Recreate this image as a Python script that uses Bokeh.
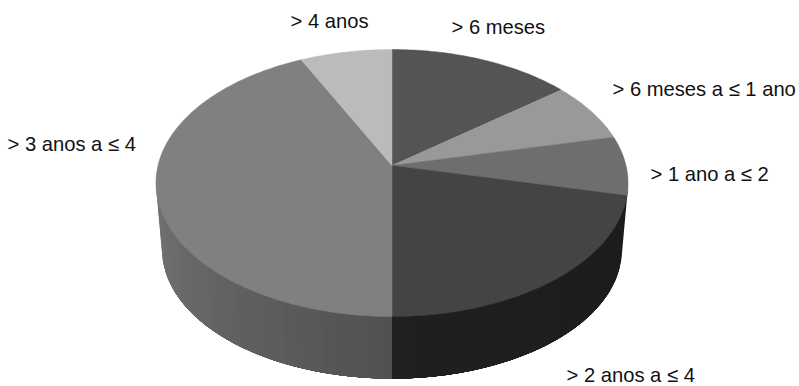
import math
from bokeh.plotting import figure
from bokeh.embed import file_html
from bokeh.resources import INLINE
from bokeh.core.properties import value

# Slices clockwise from twelve o'clock
categories = ["> 6 meses", "> 6 meses a ≤ 1 ano", "> 1 ano a ≤ 2",
              "> 2 anos a ≤ 4", "> 3 anos a ≤ 4", "> 4 anos"]
counts = [2, 1, 1, 3, 6, 1]
top_colors = ["#545454", "#999999", "#6e6e6e", "#444444", "#808080", "#bbbbbb"]
label_x = [451, 612, 650, 566, 7, 290]
label_y = [26, 88, 173, 374, 143, 20]

W, H = 799, 386
CX = 391.5
TILT = 0.1311


def project(deg, a, b, cy):
    """Perspective projection of a point on the rim of the disc."""
    t = math.radians(deg)
    u, v = math.sin(t), -math.cos(t)
    w = 1 - TILT * v
    return CX + a * u / w, cy + b * v / w


def top_rim(deg):
    return project(deg, 234, 131.2, 165)


def base_rim(deg):
    return project(deg, 228, 126.5, 232.5)


def lerp(c0, c1, f):
    return c0 + (c1 - c0) * f


def wall_shade(deg):
    # Dark wall on the right of the front line, lit gradient towards the left
    if deg < 180:
        g = lerp(0x1b, 0x20, (deg - 95) / 85)
    else:
        g = lerp(0x50, 0x74, (deg - 180) / 85)
    g = int(round(g))
    return f"#{g:02x}{g:02x}{g:02x}"


def add_wall(p, d_from, d_to, step):
    # Strips run from the silhouette towards the front line; each overlaps
    # the previous one, which closes the hairline gaps between them
    n = int(round(abs(d_to - d_from) / step))
    for i in range(n):
        d0 = d_from + i * (d_to - d_from) / n
        arc = [d0 + (d_to - d0) * j / 12 for j in range(13)]
        upper = [top_rim(d) for d in arc]
        lower = [base_rim(d) for d in reversed(arc)]
        p.patch([q[0] for q in upper + lower], [q[1] for q in upper + lower],
                fill_color=wall_shade(d0), line_color=None)


p = figure(width=W, height=H, x_range=(0, W), y_range=(H, 0),
           output_backend="svg", toolbar_location=None, min_border=0,
           outline_line_color=None, background_fill_color="white",
           border_fill_color="white")
p.axis.visible = False
p.grid.visible = False

total = sum(counts)

# Outer wall of the disc, left part first, then the dark right part
add_wall(p, 265.0, 180.0, 3.0)
add_wall(p, 95.0, 180.0, 5.0)

# Top face of the disc
apex = (CX, 165)
start = 0.0
for n, col in zip(counts, top_colors):
    sweep = 360 * n / total
    m = max(2, int(sweep))
    rim = [top_rim(start + sweep * i / m) for i in range(m + 1)]
    px = [apex[0]] + [r[0] for r in rim]
    py = [apex[1]] + [r[1] for r in rim]
    p.patch(px, py, fill_color=col, line_color=col, line_width=0.5)
    start += sweep

p.text(label_x, label_y, text=categories, text_font=value("Liberation Sans"),
       text_font_size="20.2px", text_color="#111111",
       text_align="left", text_baseline="middle")

open("out.html", "w").write(file_html(p, INLINE))
